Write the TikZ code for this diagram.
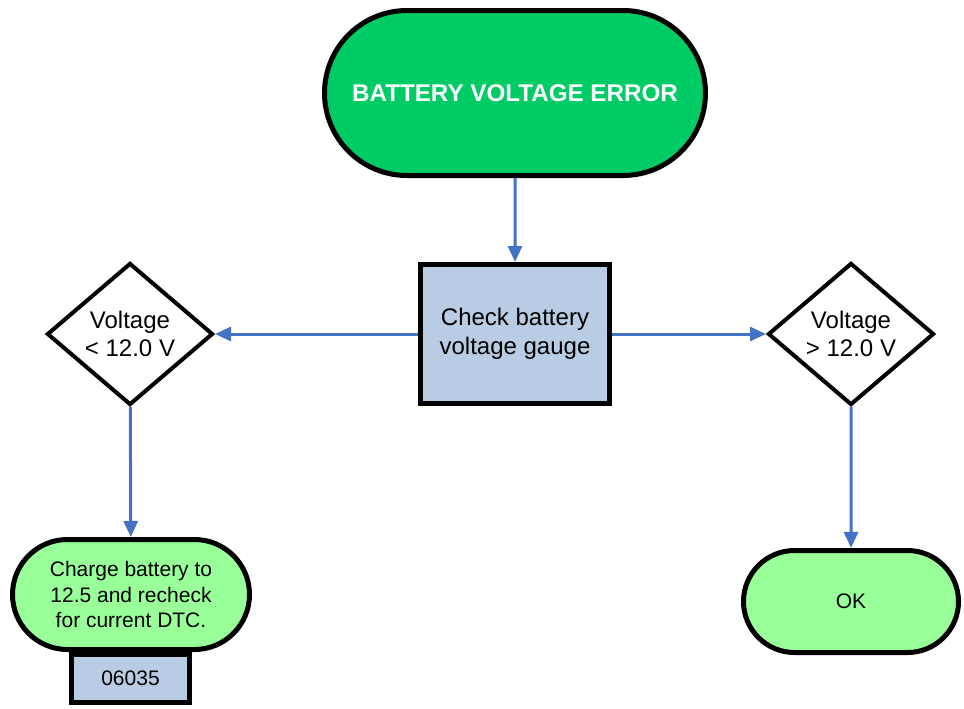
\documentclass[tikz,border=0pt]{standalone}
\usepackage{fontspec}
\setmainfont{Liberation Sans}
\usepackage{tikz}
\usetikzlibrary{shapes.geometric, shapes.misc, arrows.meta, positioning}
\definecolor{mygreen}{RGB}{0,204,102}
\definecolor{mylight}{RGB}{153,255,153}
\definecolor{myslate}{RGB}{184,204,228}
\definecolor{myblue}{RGB}{68,114,196}
\tikzset{
  startnode/.style={rounded rectangle, draw=black, fill=mygreen,
    minimum width=190.5pt, minimum height=82.5pt, inner sep=0pt,
    font=\fontsize{12.1}{14.5}\selectfont\bfseries, text=white, line width=2.5pt},
  endnode/.style={rounded rectangle, draw=black, fill=mylight,
    align=center, inner sep=0pt,
    font=\fontsize{10.5}{12.75}\selectfont, line width=2.5pt},
  checkbox/.style={rectangle, draw=black, fill=myslate,
    minimum width=94.5pt, minimum height=69.5pt, align=center,
    font=\fontsize{12}{14.4}\selectfont, line width=2.5pt},
  codebox/.style={rectangle, draw=black, fill=myslate,
    minimum width=59pt, minimum height=24pt, inner sep=0pt,
    font=\fontsize{10.5}{12.75}\selectfont, line width=2.5pt},
  decision/.style={diamond, draw=black, fill=white,
    minimum width=83pt, minimum height=71pt, inner sep=0pt, align=center,
    font=\fontsize{12}{14.4}\selectfont, line width=2pt},
  arrow/.style={-{Triangle[width=7pt, length=8pt]}, line width=1.5pt, color=myblue}
}

\begin{document}
\begin{tikzpicture}[x=0.5pt, y=-0.5pt]
  \useasboundingbox (0,0) rectangle (964,708);
  \node[startnode] (start) at (515,93) {BATTERY VOLTAGE ERROR};
  \node[checkbox] (check) at (515,334) {Check battery\\voltage gauge};
  \node[decision] (low) at (130,334) {Voltage\\< 12.0 V};
  \node[decision] (high) at (851,334) {Voltage\\> 12.0 V};
  \node[codebox] (code) at (130.5,678.5) {06035};
  \node[endnode, minimum width=118.5pt, minimum height=55pt] (charge) at (131,594.5)
    {Charge battery to\\12.5 and recheck\\for current DTC.};
  \node[endnode, minimum width=107.5pt, minimum height=51pt] (ok) at (851,601.5) {OK};
  \draw[arrow] (start) -- (check);
  \draw[arrow] (check) -- (low);
  \draw[arrow] (check) -- (high);
  \draw[arrow] (low) -- (charge);
  \draw[arrow] (high) -- (ok);
\end{tikzpicture}
\end{document}
